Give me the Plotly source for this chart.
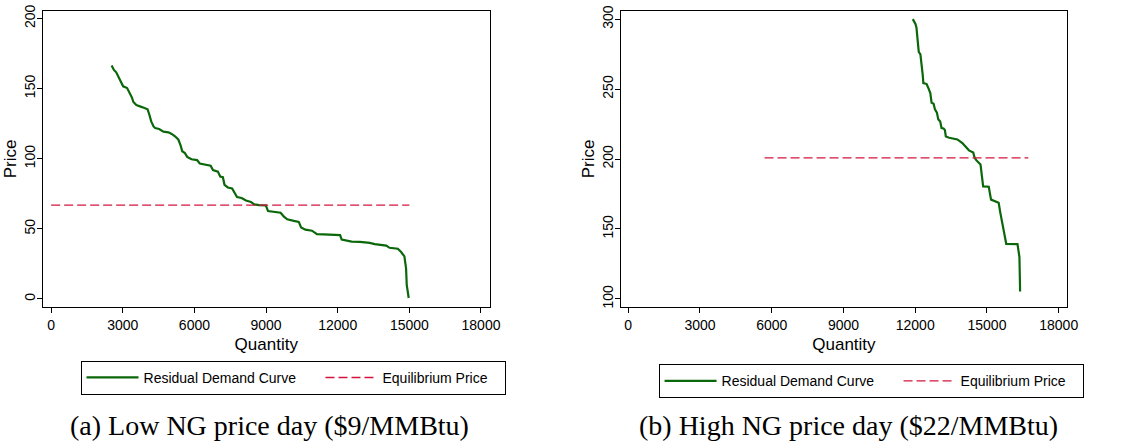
import plotly.graph_objects as go

# panel (a): low NG price day
low_qty = [2530, 2627, 2724, 2807, 2903, 3014, 3180, 3277, 3387, 3443, 3567, 3802, 4037, 4106,
           4189, 4286, 4355, 4521, 4701, 4908, 5046, 5185, 5323, 5420, 5489, 5599, 5696, 5876,
           6111, 6222, 6429, 6678, 6775, 6982, 7079, 7190, 7259, 7397, 7577, 7715, 7784, 7977,
           8157, 8365, 8503, 8710, 8987, 9083, 9332, 9609, 9747, 9886, 10162, 10369, 10466,
           10646, 10922, 11130, 11406, 11683, 12098, 12167, 12444, 12582, 12927, 13342, 13549,
           14033, 14171, 14517, 14655, 14793, 14862, 14890, 14973]
low_price = [166.5, 163.3, 161.6, 158.6, 154.4, 151.6, 150.4, 147.6, 143.4, 140.4, 138.2, 136.8,
             135.2, 131.7, 126.6, 123.0, 121.9, 121.2, 119.3, 118.8, 117.7, 116.0, 113.7, 109.5,
             105.3, 104.1, 101.3, 99.6, 99.0, 96.6, 95.7, 95.0, 91.9, 90.8, 87.3, 86.8, 81.4,
             79.5, 78.8, 75.1, 72.7, 72.0, 70.2, 69.2, 67.4, 66.9, 66.7, 62.7, 62.0, 61.5, 58.7,
             56.8, 55.7, 55.0, 51.0, 49.4, 48.7, 46.3, 46.1, 45.8, 45.6, 42.3, 41.6, 40.9, 40.7,
             40.0, 39.1, 38.1, 36.5, 35.8, 33.5, 30.4, 21.8, 10.1, 0.7]
low_eq_qty = [0, 15000]
low_eq_price = [66.9, 66.9]

# panel (b): high NG price day
high_qty = [11899, 11941, 12010, 12051, 12107, 12148, 12217, 12272, 12314, 12341, 12479, 12548,
            12631, 12686, 12769, 12824, 12907, 12963, 13045, 13101, 13184, 13239, 13281, 13419,
            13764, 13971, 14247, 14427, 14482, 14551, 14730, 14841, 15075, 15171, 15489, 15558,
            15696, 15806, 16276, 16358, 16386]
high_price = [300.0, 298.8, 296.5, 294.1, 285.9, 276.6, 274.8, 268.3, 260.1, 254.3, 253.6, 250.8,
              247.2, 240.2, 239.5, 235.5, 233.2, 228.5, 226.8, 222.2, 221.9, 220.8, 216.1, 215.2,
              214.0, 211.4, 206.2, 204.6, 201.1, 199.2, 196.1, 180.4, 180.2, 171.0, 168.7, 161.7,
              150.0, 139.4, 139.2, 130.0, 105.4]
high_eq_qty = [5700, 16730]
high_eq_price = [200.8, 200.8]

x_ticks = [0, 3000, 6000, 9000, 12000, 15000, 18000]
low_y_ticks = [0, 50, 100, 150, 200]
high_y_ticks = [100, 150, 200, 250, 300]

captions = ["(a) Low NG price day ($9/MMBtu)", "(b) High NG price day ($22/MMBtu)"]

GREEN = "#0a670a"
RED = "#d4143e"
SANS = "Liberation Sans, Arial, sans-serif"
NB = "\u00a0"

fig = go.Figure()

panels = [
    (low_qty, low_price, low_eq_qty, low_eq_price, "x", "y", "legend"),
    (high_qty, high_price, high_eq_qty, high_eq_price, "x2", "y2", "legend2"),
]
for qty, price, eq_q, eq_p, xa, ya, lg in panels:
    fig.add_trace(go.Scatter(x=qty, y=price, mode="lines",
                             name="Residual Demand Curve" + NB * 5,
                             line=dict(color=GREEN, width=2.2), xaxis=xa, yaxis=ya, legend=lg))
    fig.add_trace(go.Scatter(x=eq_q, y=eq_p, mode="lines", name="Equilibrium Price" + NB * 3,
                             line=dict(color=RED, width=1.4, dash="9px,4px"),
                             xaxis=xa, yaxis=ya, legend=lg))

axis_style = dict(showline=True, linecolor="black", linewidth=1, mirror=True,
                  ticks="outside", ticklen=5, tickcolor="black", showgrid=False,
                  zeroline=False, ticklabeloverflow="allow",
                  tickfont=dict(family=SANS, size=14, color="black"))
x_style = dict(tickvals=x_ticks, ticktext=[str(v) for v in x_ticks],
               title=dict(text="Quantity", standoff=6), **axis_style)
y_style = dict(tickangle=-90, ticklabelstandoff=-4,
               title=dict(text="Price", standoff=1), **axis_style)

legend_style = dict(orientation="h", xanchor="left", yanchor="top", itemwidth=52,
                    bordercolor="black", borderwidth=1, bgcolor="white",
                    font=dict(family=SANS, size=14, color="black"))

fig.update_layout(
    width=1139, height=448,
    margin=dict(l=0, r=0, t=0, b=0),
    paper_bgcolor="white", plot_bgcolor="white",
    font=dict(family=SANS, size=14, color="black"),
    xaxis=dict(domain=[0.03805, 0.43401], range=[-346, 18359], anchor="y", **x_style),
    yaxis=dict(domain=[0.317, 0.9896], range=[-5.85, 205.6], tickvals=low_y_ticks,
               ticktext=[str(v) for v in low_y_ticks], anchor="x", **y_style),
    xaxis2=dict(domain=[0.55019, 0.94616], range=[-318, 18358], anchor="y2", **x_style),
    yaxis2=dict(domain=[0.317, 0.9896], range=[94.1, 306.1], tickvals=high_y_ticks,
                ticktext=[str(v) for v in high_y_ticks], anchor="x2", **y_style),
    legend=dict(x=81.3 / 1139, y=1 - 360.5 / 448, **legend_style),
    legend2=dict(x=665 / 1139, y=1 - 364 / 448, **legend_style),
)

for cx, text in zip([272.5 / 1139, 856.5 / 1139], captions):
    fig.add_annotation(x=cx, y=1 - 426 / 448, xref="paper", yref="paper", text=text,
                       showarrow=False, xanchor="center", yanchor="middle",
                       font=dict(family="Liberation Serif", size=28, color="black"))

fig.write_html("out.html", config={"displayModeBar": False},
               post_script="document.body.style.margin = '0';")
